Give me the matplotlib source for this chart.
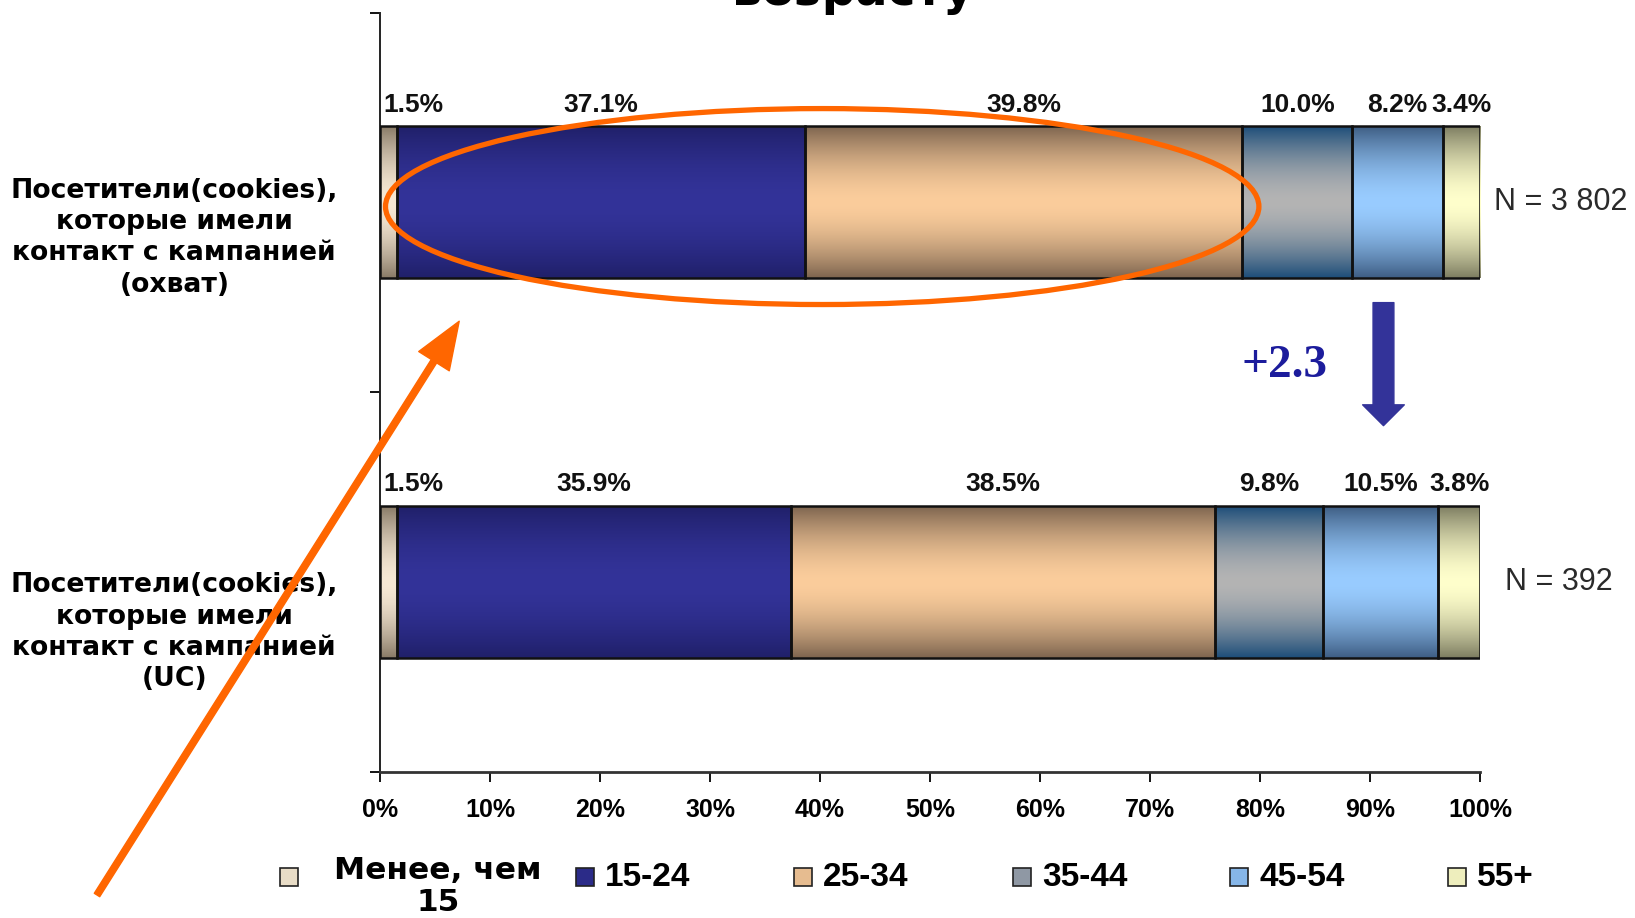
import numpy as np
import matplotlib
matplotlib.use("Agg")
from matplotlib import pyplot as plt
from matplotlib.colors import to_rgb
from matplotlib.patches import Ellipse, Rectangle
import matplotlib.transforms as mtransforms

# данные
groups = ["Посетители(cookies),\nкоторые имели\nконтакт с кампанией\n(охват)",
          "Посетители(cookies),\nкоторые имели\nконтакт с кампанией\n(UC)"]
ages = ["Менее, чем\n15", "15-24", "25-34", "35-44", "45-54", "55+"]
reach = [1.5, 37.1, 39.8, 10.0, 8.2, 3.4]
uc = [1.5, 35.9, 38.5, 9.8, 10.5, 3.8]
n_labels = ["N = 3 802", "N = 392"]
xticks = [0, 10, 20, 30, 40, 50, 60, 70, 80, 90, 100]

# цвета: середина полосы / края полосы (градиент как в Excel)
col_mid = ["#f6e8d4", "#333399", "#fbcd9c", "#b4b4b4", "#99ccff", "#ffffcc"]
col_edge = ["#8a7c68", "#20206a", "#7f6650", "#1f4f7a", "#3f5f85", "#7f7f63"]
leg_col = ["#e8dcc6", "#2b2b88", "#e6bc90", "#8f98a4", "#86b6e8", "#eeeebd"]

fig = plt.figure(figsize=(16.35, 9.18), dpi=100)
ax = fig.add_axes([380 / 1635, 1 - 772 / 918, 1100 / 1635, (772 - 12.5) / 918])

data = np.array([reach, uc])
y = np.arange(len(groups))
left = np.zeros(len(groups))


def gradient(c_mid, c_edge, n=80):
    t = np.abs(np.linspace(-1, 1, n)) ** 1.7
    a = np.array(to_rgb(c_mid))
    b = np.array(to_rgb(c_edge))
    return (a[None, :] * (1 - t[:, None]) + b[None, :] * t[:, None])[:, None, :]


for j in range(len(ages)):
    vals = data[:, j]
    bars = ax.barh(y, vals, left=left, height=0.4, facecolor="none",
                   edgecolor="#111111", linewidth=1.8, zorder=3)
    for p in bars.patches:
        bb = p.get_bbox()
        im = ax.imshow(gradient(col_mid[j], col_edge[j]), aspect="auto",
                       extent=[bb.x0, bb.x1, bb.y1, bb.y0], zorder=2,
                       interpolation="bilinear")
        im.set_clip_path(p)
    for i in range(len(groups)):
        if vals[i] < 2:
            xl, ha = left[i] + 0.3, "left"
        else:
            xl, ha = left[i] + vals[i] / 2, "center"
        ax.annotate(f"{vals[i]:.1f}%", xy=(xl, y[i] - 0.2), xytext=(0, 7),
                    textcoords="offset points", ha=ha, va="bottom",
                    fontsize=19, fontweight="bold", family="Liberation Sans",
                    color="#111111")
    left = left + vals

ax.set_xlim(0, 100)
ax.set_ylim(1.5, -0.5)

# оси
for s in ["top", "right"]:
    ax.spines[s].set_visible(False)
ax.spines["left"].set_color("#222222")
ax.spines["left"].set_linewidth(1.4)
ax.spines["bottom"].set_color("#333333")
ax.spines["bottom"].set_linewidth(2)
ax.set_xticks(xticks)
ax.set_xticklabels([f"{v}%" for v in xticks], fontsize=18, fontweight="bold",
                   family="Liberation Sans")
ax.tick_params(axis="x", direction="out", length=7, width=1.3, pad=12)
ax.set_yticks([-0.5, 0.5, 1.5])
ax.set_yticklabels([])
ax.tick_params(axis="y", direction="out", length=7, width=1.3)

# подписи групп
trans = mtransforms.blended_transform_factory(ax.transAxes, ax.transData)
lab_off = [0.093, 0.132]
for i, g in enumerate(groups):
    ax.text(-0.187, y[i] + lab_off[i], g, transform=trans, ha="center",
            va="center", multialignment="center", fontsize=19.2,
            fontweight="bold", family="DejaVu Sans", linespacing=1.27)

# N
n_x = [101.3, 102.3]
for i, t in enumerate(n_labels):
    ax.text(n_x[i], y[i], t, ha="left", va="center", fontsize=22,
            family="Liberation Sans", color="#2a2a2a", clip_on=False)

# изменение 45-54
diff = uc[4] - reach[4]
arr_x = (sum(reach[:4]) + reach[4] / 2 + sum(uc[:4]) + uc[4] / 2) / 2 - 0.5
ax.annotate("", xy=(arr_x, 0.588), xytext=(arr_x, 0.264),
            arrowprops=dict(arrowstyle="simple,head_width=1.5,head_length=0.75,tail_width=0.75",
                            mutation_scale=20, color="#333399", shrinkA=0, shrinkB=0))
ax.text(arr_x - 9.0, 0.43, f"+{diff:.1f}", ha="center", va="center", fontsize=34,
        fontweight="bold", family="Liberation Serif", color="#1c1c9c")

# оранжевый овал и стрелка
e_left = reach[0] - 1.0
e_right = sum(reach[:3]) + 1.5
ax.add_patch(Ellipse(((e_left + e_right) / 2, 0.011), e_right - e_left, 0.516,
                     fill=False, edgecolor="#ff6600", linewidth=3.8, zorder=5,
                     clip_on=False))
ax.annotate("", xy=(7.2, 0.313), xycoords="data",
            xytext=(97 / 1635, 1 - 895 / 918), textcoords="figure fraction",
            arrowprops=dict(arrowstyle="simple,head_width=1.3,head_length=1.7,tail_width=0.23",
                            mutation_scale=20, color="#ff6600", shrinkA=0, shrinkB=0),
            zorder=6)

# заголовок (обрезан сверху, как в оригинале)
fig.text(853 / 1635, 1 - 5 / 918, "возрасту", ha="center", va="baseline",
         fontsize=34, fontweight="bold", family="DejaVu Sans")

# легенда
leg_x = [289, 585, 803, 1022, 1239, 1457]
leg_y = 877
for k, name in enumerate(ages):
    cx = leg_x[k]
    fig.add_artist(Rectangle(((cx - 9) / 1635, 1 - (leg_y + 9) / 918), 18 / 1635, 18 / 918,
                             facecolor=leg_col[k], edgecolor="#222222", linewidth=1.2,
                             transform=fig.transFigure))
    if k == 0:
        fig.text(438 / 1635, 1 - (leg_y - 21) / 918, name, ha="center", va="top",
                 multialignment="center", fontsize=22.5, fontweight="bold",
                 family="DejaVu Sans", linespacing=1.15)
    else:
        fig.text((cx + 20) / 1635, 1 - leg_y / 918, name, ha="left", va="center",
                 fontsize=24, fontweight="bold", family="Liberation Sans")

fig.savefig("out.png", dpi=100)
